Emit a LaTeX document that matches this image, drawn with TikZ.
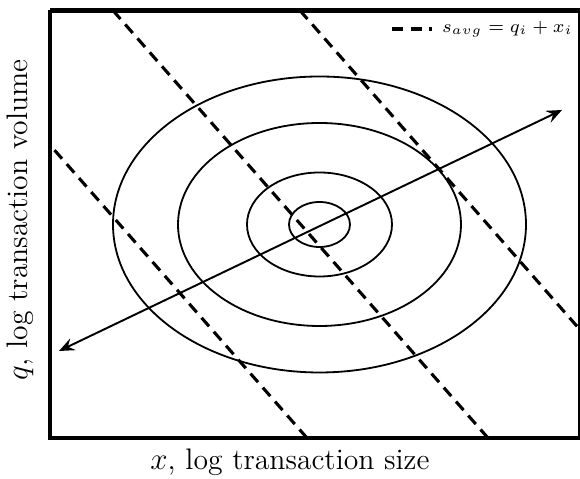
\documentclass[tikz,border=0pt]{standalone}
\usetikzlibrary{arrows.meta}
\usepackage{amsmath}

\begin{document}
\begin{tikzpicture}[x=0.1362cm,y=0.1362cm]

    \useasboundingbox (-5,-4.1) rectangle (53,43.8);

    % Contours
    \draw[line width=0.7pt] (26.95,21.35) ellipse (3.05 and 2.25);
    \draw[line width=0.7pt] (26.95,21.35) ellipse (7.25 and 5.2);
    \draw[line width=0.7pt] (26.95,21.35) ellipse (14.15 and 10.15);
    \draw[line width=0.7pt] (26.95,21.35) ellipse (20.65 and 14.8);

    % Level lines of s
    \begin{scope}
    \clip (0,0) rectangle (53,42.75);
    \foreach \s in {-11.8,6.3,25}
        \draw[line width=1.2pt, dash pattern=on 4.4pt off 2.8pt] (\s,42.75) -- ++(37.5,-42.75);
    \end{scope}

    % Principal direction
    \coordinate (lo) at (0.9,8.7);
    \coordinate (hi) at (51.2,32.8);
    \draw[line width=0.75pt, {Stealth[length=6pt,width=5pt,inset=2.2pt]}-{Stealth[length=6pt,width=5pt,inset=2.2pt]}] (lo) -- (hi);

    % Axes
    \draw[line width=1.7pt] (0,42.75) -- (0,0) -- (53,0);
    \draw[line width=1.7pt] (0,42.75) -- (53,42.75) -- (53,0);
    \node[font=\fontsize{11.5}{14}\selectfont] (xlab) at (24.0,-2.4) {$x$, log transaction size};
    \node[rotate=90, font=\fontsize{11.5}{14}\selectfont] (ylab) at (-3.0,21.8) {$q$, log transaction volume};

    % Legend
    \draw[line width=1.2pt, dash pattern=on 4.4pt off 2.8pt] (34.2,40.9) -- (38.2,40.9);
    \node[right, font=\fontsize{7.5}{9}\selectfont, inner sep=1pt] (leg) at (38.9,40.9) {$s_{avg} = q_i + x_i$};

\end{tikzpicture}
\end{document}
